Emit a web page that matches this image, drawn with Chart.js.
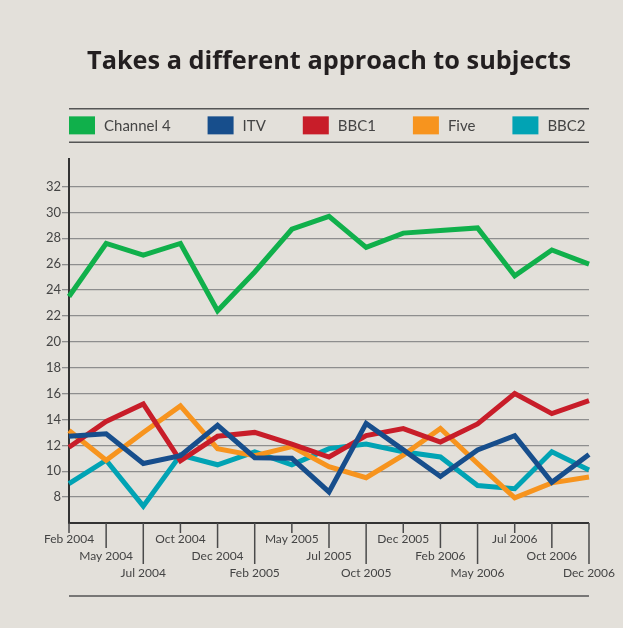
<!DOCTYPE html>
<html>
<head>
<meta charset="utf-8">
<script src="https://cdn.jsdelivr.net/npm/chart.js@4"></script>
<style>
  html, body { margin: 0; padding: 0; background: #e3e0da; }
  #wrap { width: 623px; height: 628px; }
</style>
</head>
<body>
<div id="wrap"><canvas id="myChart" width="623" height="628"></canvas></div>
<script>
const labels = ["Feb 2004", "May 2004", "Jul 2004", "Oct 2004", "Dec 2004", "Feb 2005", "May 2005", "Jul 2005",
  "Oct 2005", "Dec 2005", "Feb 2006", "May 2006", "Jul 2006", "Oct 2006", "Dec 2006"];
const channel4 = [23.5, 27.6, 26.7, 27.6, 22.4, 25.4, 28.7, 29.7, 27.3, 28.4, 28.6, 28.8, 25.1, 27.1, 26.0];
const itv = [12.7, 12.9, 10.6, 11.2, 13.55, 11.05, 11.0, 8.4, 13.7, 11.65, 9.6, 11.65, 12.75, 9.15, 11.3];
const bbc1 = [11.85, 13.85, 15.2, 10.8, 12.7, 13.0, 12.1, 11.1, 12.75, 13.3, 12.25, 13.65, 16.0, 14.45, 15.45];
const five = [13.15, 10.85, 13.0, 15.05, 11.75, 11.2, 11.9, 10.35, 9.5, 11.25, 13.3, 10.6, 7.95, 9.1, 9.55];
const bbc2 = [9.05, 10.85, 7.3, 11.25, 10.5, 11.5, 10.5, 11.75, 12.1, 11.5, 11.1, 8.9, 8.65, 11.5, 10.1];
const yTicks = [8, 10, 12, 14, 16, 18, 20, 22, 24, 26, 28, 30, 32];

const FONT = "Lato";

// stagger x labels over three rows
function tickLabel(i) {
  const rows = [];
  for (let k = 0; k < i % 3; k++) rows.push("");
  rows.push(labels[i]);
  return rows;
}

function serie(label, data, color, order) {
  return {
    label, data,
    borderColor: color,
    backgroundColor: color,
    borderWidth: 5,
    pointRadius: 0,
    borderJoinStyle: "miter",
    tension: 0,
    order
  };
}

// legend between two rules, bottom rule, staggered x tick marks
const decor = {
  id: "decor",
  afterDraw(chart) {
    const ctx = chart.ctx;
    const area = chart.chartArea;
    const cy = area.top - 34;
    ctx.save();
    ctx.strokeStyle = "#555";
    ctx.lineWidth = 1.5;
    [cy - 16.5, cy + 17, area.bottom + 73].forEach((y) => {
      ctx.beginPath();
      ctx.moveTo(area.left, y);
      ctx.lineTo(area.right, y);
      ctx.stroke();
    });

    ctx.font = "15px " + FONT;
    ctx.textBaseline = "middle";
    ctx.textAlign = "left";
    let x = area.left;
    chart.data.datasets.forEach((ds) => {
      ctx.fillStyle = ds.borderColor;
      ctx.fillRect(x, cy - 9, 26, 18);
      ctx.fillStyle = "#444";
      ctx.fillText(ds.label, x + 35, cy + 1);
      x += 35 + ctx.measureText(ds.label).width + 37;
    });

    const xs = chart.scales.x;
    ctx.strokeStyle = "#4a4a4a";
    ctx.lineWidth = 1.5;
    const lens = [10, 25, 41];
    labels.forEach((l, i) => {
      const px = xs.getPixelForTick(i);
      ctx.beginPath();
      ctx.moveTo(px, area.bottom);
      ctx.lineTo(px, area.bottom + lens[i % 3]);
      ctx.stroke();
    });
    ctx.restore();
  }
};

const ctx = document.getElementById("myChart").getContext("2d");
const myChart = new Chart(ctx, {
  type: "line",
  data: {
    labels,
    datasets: [
      serie("Channel 4", channel4, "#10b04b", 5),
      serie("ITV", itv, "#174e8c", 1),
      serie("BBC1", bbc1, "#c81d29", 2),
      serie("Five", five, "#f7941e", 3),
      serie("BBC2", bbc2, "#01a3b4", 4)
    ]
  },
  options: {
    responsive: false,
    animation: false,
    layout: { padding: { top: 0, left: 29, right: 34, bottom: 45 } },
    plugins: {
      title: {
        display: true,
        fullSize: false,
        text: "Takes a different approach to subjects",
        color: "#231f20",
        font: { family: "Open Sans", size: 25.3, weight: "bold" },
        padding: { top: 47, bottom: 82 }
      },
      legend: { display: false },
      tooltip: { enabled: false }
    },
    scales: {
      x: {
        grid: { display: false, drawTicks: false },
        border: { display: true, color: "#333", width: 2 },
        ticks: {
          autoSkip: false,
          maxRotation: 0,
          padding: 8,
          color: "#444",
          font: { family: FONT, size: 12, lineHeight: 1.4 },
          callback: (v, i) => tickLabel(i)
        },
        afterFit(s) { s.height = 60; }
      },
      y: {
        min: 6.0,
        max: 34.1,
        afterBuildTicks(s) { s.ticks = yTicks.map((v) => ({ value: v })); },
        grid: { color: "#8e8e8e", lineWidth: 1.3, tickLength: 7 },
        border: { display: true, color: "#333", width: 2 },
        ticks: {
          padding: 1,
          color: "#444",
          font: { family: FONT, size: 13 }
        },
        afterFit(s) { s.width = 40; }
      }
    }
  },
  plugins: [decor]
});
</script>
</body>
</html>
